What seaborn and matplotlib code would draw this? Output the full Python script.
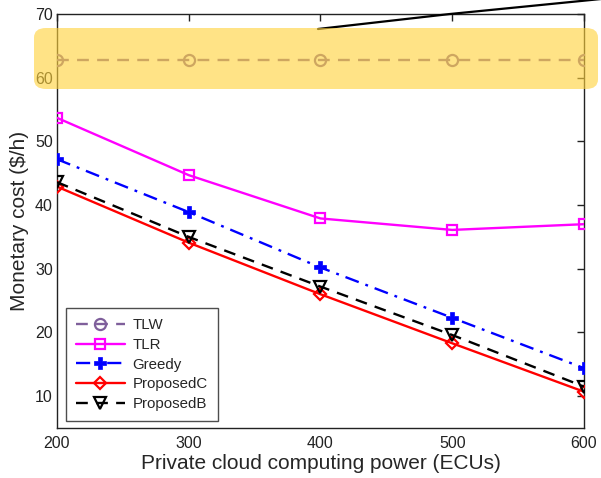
import matplotlib
matplotlib.use("Agg")
import matplotlib.pyplot as plt
import seaborn as sns
import pandas as pd
from matplotlib.patches import FancyBboxPatch
from matplotlib.lines import Line2D

sns.set_style("white")
plt.rcParams['font.family'] = ['Liberation Sans', 'DejaVu Sans']

power = [200, 300, 400, 500, 600]
tlw = [62.8, 62.8, 62.8, 62.8, 62.8]
tlr = [53.7, 44.7, 37.9, 36.1, 37.0]
greedy = [47.2, 38.9, 30.2, 22.3, 14.4]
proposed_c = [42.9, 34.1, 26.0, 18.3, 10.7]
proposed_b = [43.6, 35.0, 27.2, 19.6, 11.5]

series = [
    ("TLW", tlw, "#7F5F9B", (0, (5, 3.5)), "o", 8),
    ("TLR", tlr, "#FF00FF", "-", "s", 7.5),
    ("Greedy", greedy, "#0000FF", (0, (6, 3, 1.2, 3)), "P", 8.5),
    ("ProposedC", proposed_c, "#FF0000", "-", "D", 6.5),
    ("ProposedB", proposed_b, "#000000", (0, (5, 3.5)), "v", 8),
]

fig = plt.figure(figsize=(6.01, 4.78), dpi=100)
ax = fig.add_axes([0.0948, 0.1046, 0.9717 - 0.0948, 0.9707 - 0.1046])

handles = []
for name, vals, color, ls, mk, ms in series:
    df = pd.DataFrame({"x": power, "y": vals})
    filled = mk == "P"
    kw = dict(color=color, linestyle=ls, linewidth=1.7, marker=mk, markersize=ms,
              markerfacecolor=color if filled else "none",
              markeredgecolor=color, markeredgewidth=1.6 if not filled else 0.5)
    sns.lineplot(data=df, x="x", y="y", ax=ax, zorder=3, **kw)
    handles.append(Line2D([], [], **kw))

ax.set_xlim(200, 600)
ax.set_ylim(5, 70)
ax.set_xticks(power)
ax.set_yticks([10, 20, 30, 40, 50, 60, 70])
ax.tick_params(direction="in", length=5, width=1, top=True, right=True,
               labelsize=11.5, colors="#222222")
ax.tick_params(axis="x", pad=6)
ax.tick_params(axis="y", pad=3)
for s in ax.spines.values():
    s.set_visible(True)
    s.set_color("#222222")
    s.set_linewidth(1.0)
ax.set_xlabel("Private cloud computing power (ECUs)", fontsize=15, labelpad=2)
ax.set_ylabel("Monetary cost ($/h)", fontsize=15, labelpad=4)

leg = ax.legend(handles, [s[0] for s in series], loc="lower left",
                bbox_to_anchor=(0.017, 0.0176), fontsize=10.8, frameon=True,
                fancybox=False, edgecolor="#222222", handlelength=3.3,
                borderpad=0.65, labelspacing=0.38, handletextpad=0.5,
                borderaxespad=0.0)
leg.get_frame().set_linewidth(1.0)

# highlight box (figure pixel coords)
W, H = 601, 478
x0, x1, y0, y1 = 34, 598, 28, 89
box = FancyBboxPatch((x0 / W, 1 - y1 / H), (x1 - x0) / W, (y1 - y0) / H,
                     boxstyle="round,pad=0,rounding_size=0.02",
                     transform=fig.transFigure, facecolor="#FFD23C",
                     edgecolor="none", alpha=0.62, zorder=10)
fig.patches.append(box)
fig.add_artist(Line2D([318 / W, 450 / W, 601 / W], [1 - 29 / H, 1 - 14 / H, 1 - (-1) / H],
                      transform=fig.transFigure, color="black", linewidth=1.6))

fig.savefig("out.png", dpi=100)
